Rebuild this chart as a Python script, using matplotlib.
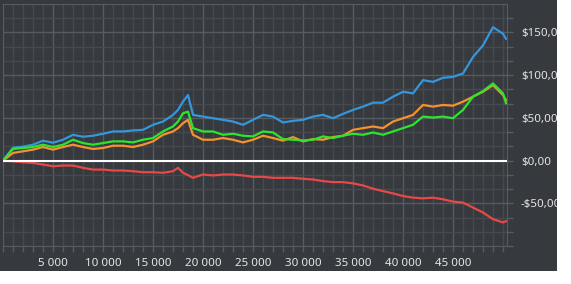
import matplotlib
matplotlib.use("Agg")
import matplotlib.pyplot as plt
from matplotlib.patches import Rectangle
from matplotlib.ticker import MultipleLocator, FuncFormatter

# trade number
x = [0, 1000, 2000, 3000, 4000, 5000, 6000, 7000, 8000, 9000,
     10000, 11000, 12000, 13000, 14000, 15000, 16000, 17000, 17500, 18000,
     18500, 19000, 20000, 21000, 22000, 23000, 24000, 25000, 26000, 27000,
     28000, 29000, 30000, 31000, 32000, 33000, 34000, 35000, 36000, 37000,
     38000, 39000, 40000, 41000, 42000, 43000, 44000, 45000, 46000, 47000,
     48000, 49000, 50000, 50300]

blue = [0, 15.1, 16.3, 18.6, 23.3, 20.9, 24.4, 30.2, 27.9, 29.1,
        31.4, 34.1, 34.1, 35.3, 36.0, 41.9, 45.7, 53.5, 59.3, 69.0,
        76.7, 53.5, 51.5, 49.6, 47.7, 45.7, 41.9, 47.7, 53.5, 51.5,
        44.6, 46.5, 47.7, 51.5, 53.5, 49.6, 54.7, 59.3, 63.2, 67.8,
        67.8, 74.8, 80.6, 78.7, 94.2, 92.2, 96.9, 98.0, 102.0, 121.3,
        134.9, 156.2, 148.5, 142.6]

orange = [0, 8.9, 10.9, 12.8, 15.9, 12.8, 15.9, 18.6, 15.9, 13.6,
          14.7, 17.4, 17.4, 15.9, 18.6, 22.5, 30.2, 34.1, 38.0, 43.8,
          47.7, 30.2, 24.4, 24.4, 26.4, 24.4, 21.3, 24.4, 29.1, 26.4,
          23.3, 27.5, 22.5, 25.2, 24.4, 27.5, 29.1, 36.0, 38.0, 39.9,
          38.0, 45.7, 49.6, 53.5, 65.1, 63.2, 65.1, 64.3, 69.0, 74.8,
          80.6, 88.4, 76.7, 70.9]

green = [0, 13.6, 14.7, 15.9, 18.6, 15.9, 18.6, 24.4, 20.5, 18.6,
         20.5, 22.5, 22.5, 21.3, 24.4, 26.4, 34.1, 39.9, 45.7, 55.4,
         57.3, 38.0, 34.1, 34.1, 30.2, 31.4, 29.1, 28.3, 34.1, 32.9,
         25.2, 24.4, 23.6, 24.4, 28.3, 26.4, 29.1, 31.4, 30.2, 32.9,
         30.2, 34.1, 38.0, 41.9, 51.5, 50.4, 51.5, 49.6, 59.3, 74.8,
         81.4, 90.3, 78.7, 67.1]

red = [0, -0.8, -2.0, -2.7, -4.7, -6.6, -5.8, -5.8, -8.5, -10.5,
       -10.5, -11.6, -11.6, -12.4, -13.6, -13.6, -14.3, -12.4, -8.5, -14.3,
       -17.0, -20.2, -16.3, -17.4, -16.3, -16.3, -17.4, -19.0, -19.0, -20.2,
       -20.2, -20.2, -21.3, -22.1, -24.0, -25.2, -25.2, -26.7, -29.1, -32.9,
       -35.7, -38.4, -41.5, -43.4, -44.2, -43.4, -45.3, -48.0, -49.2, -55.0,
       -60.8, -68.6, -72.4, -71.0]

y_ticks = [-50, 0, 50, 100, 150]
x_ticks = [5000, 10000, 15000, 20000, 25000, 30000, 35000, 40000, 45000]

bg = "#36393d"
txt = "#e6e6e6"
W, H = 571, 284

fig = plt.figure(figsize=(W / 100, H / 100), dpi=100, facecolor="white")
fig.patches.append(Rectangle((0, 13 / H), 557 / W, 1, transform=fig.transFigure,
                             facecolor=bg, edgecolor="none", zorder=-1))
fig.patches.append(Rectangle((557 / W, 0), 1, 1, transform=fig.transFigure,
                             facecolor="white", edgecolor="none", zorder=10))

ax = fig.add_axes([3 / W, 38 / H, 504 / W, 242 / H])
ax.set_facecolor(bg)

ax.plot(x, blue, color="#3597db", lw=1.6, zorder=3)
ax.plot(x, orange, color="#f5922f", lw=1.6, zorder=3)
ax.plot(x, green, color="#2ee52e", lw=1.6, zorder=4)
ax.plot(x, red, color="#e84848", lw=1.6, zorder=3)
ax.axhline(0, color="white", lw=1.5, zorder=5)

ax.set_xlim(0, 50400)
ax.set_ylim(-100, 183.33)

ax.set_xticks(x_ticks)
ax.xaxis.set_minor_locator(MultipleLocator(1000))
ax.xaxis.set_major_formatter(FuncFormatter(lambda v, p: f"{int(v):,}".replace(",", " ")))

ax.set_yticks(y_ticks)
ax.yaxis.set_minor_locator(MultipleLocator(50 / 3))


def money(v, p):
    s = f"${abs(v):.2f}".replace(".", ",")
    return "-" + s if v < 0 else s


ax.yaxis.set_major_formatter(FuncFormatter(money))
ax.yaxis.tick_right()

ax.grid(which="major", color="#585b5f", lw=1.0)
ax.grid(which="minor", color="#46494d", lw=1.0)
ax.set_axisbelow(True)

ax.tick_params(which="both", colors="#585b5f", labelcolor=txt, labelsize=8.3, length=4, width=1)
ax.tick_params(axis="y", which="both", pad=6)
ax.tick_params(axis="x", which="both", pad=5)
for lbl in ax.get_xticklabels() + ax.get_yticklabels():
    lbl.set_fontfamily("Noto Sans")

for s in ax.spines.values():
    s.set_color("#585b5f")

fig.savefig("out.png", dpi=100, facecolor="white")
